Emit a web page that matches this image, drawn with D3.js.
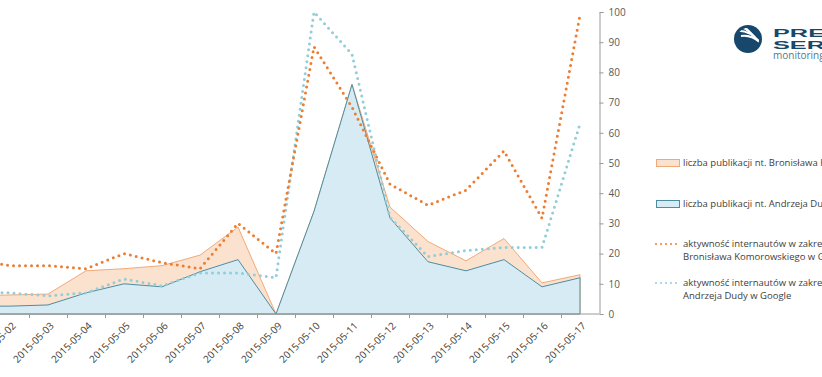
<!DOCTYPE html>
<html>
<head>
<meta charset="utf-8">
<script src="https://cdn.jsdelivr.net/npm/d3@7"></script>
<style>
  body { margin: 0; background: #fff; }
  svg { display: block; font-family: "Open Sans", "DejaVu Sans", sans-serif; }
</style>
</head>
<body>
<div id="chart"></div>
<script>
// dates (05-01 lies left of the visible crop)
const days = ['2015-05-01', '2015-05-02', '2015-05-03', '2015-05-04', '2015-05-05', '2015-05-06',
    '2015-05-07', '2015-05-08', '2015-05-09', '2015-05-10', '2015-05-11', '2015-05-12',
    '2015-05-13', '2015-05-14', '2015-05-15', '2015-05-16', '2015-05-17']

const pubKomorowski = [6, 6.3, 6.6, 14.3, 15, 16, 19.5, 28.8, 0, 34, 76, 35.4, 24, 17.6, 25, 10.3, 13]
const pubDuda = [2.6, 2.6, 3, 7, 10, 9, 14, 18, 0, 34, 76, 31.8, 17.3, 14.3, 18, 9, 12]
const googleKomorowski = [18, 16, 16, 15, 20, 17, 15, 30, 20, 88.5, 68.5, 43, 36, 41, 54, 31.7, 99]
const googleDuda = [7, 7, 6, 7, 11.6, 9.3, 13.6, 13.6, 12, 100, 86, 32, 19, 21, 22, 22, 63]

const yTicks = [0, 10, 20, 30, 40, 50, 60, 70, 80, 90, 100]

const legendItems = [
    {kind: 'area', fill: '#fbe2cf', stroke: '#f2a978', lines: ['liczba publikacji nt. Bronisława Komorowskiego']},
    {kind: 'area', fill: '#d6ebf3', stroke: '#4e8da0', lines: ['liczba publikacji nt. Andrzeja Dudy']},
    {kind: 'dots', stroke: '#ed7d31', lines: ['aktywność internautów w zakresie', 'Bronisława Komorowskiego w Google']},
    {kind: 'dots', stroke: '#93cdd8', lines: ['aktywność internautów w zakresie', 'Andrzeja Dudy w Google']}
]

const width = 822, height = 377
const plot = {left: -47, right: 599, top: 12, bottom: 314}

const svg = d3.select('#chart').append('svg')
    .attr('width', width)
    .attr('height', height)

const x = d3.scaleBand().domain(days).range([plot.left, plot.right])
const y = d3.scaleLinear().domain([0, 100]).range([plot.bottom, plot.top])
const cx = d => x(d) + x.bandwidth() / 2

const area = vals => d3.area()
    .x((d, i) => cx(days[i]))
    .y0(y(0))
    .y1(d => y(d))(vals)
const line = vals => d3.line()
    .x((d, i) => cx(days[i]))
    .y(d => y(d))(vals)

// areas
svg.append('path')
    .attr('d', area(pubKomorowski))
    .attr('fill', '#fbe2cf')
    .attr('stroke', '#f2a978')
    .attr('stroke-width', 1)
svg.append('path')
    .attr('d', area(pubDuda))
    .attr('fill', '#d6ebf3')
    .attr('stroke', '#4e8da0')
    .attr('stroke-width', 1)

// dotted lines
svg.append('path')
    .attr('d', line(googleDuda))
    .attr('fill', 'none')
    .attr('stroke', '#93cdd8')
    .attr('stroke-width', 3)
    .attr('stroke-linecap', 'round')
    .attr('stroke-dasharray', '0 6')
svg.append('path')
    .attr('d', line(googleKomorowski))
    .attr('fill', 'none')
    .attr('stroke', '#ed7d31')
    .attr('stroke-width', 3)
    .attr('stroke-linecap', 'round')
    .attr('stroke-dasharray', '0 6')

// x axis
const xAxis = svg.append('g')
xAxis.append('line')
    .attr('x1', 0).attr('x2', plot.right)
    .attr('y1', y(0)).attr('y2', y(0))
    .attr('stroke', '#9a9a9a')
xAxis.selectAll('.tick')
    .data(days.slice(1))
    .join('line')
    .attr('x1', d => x(d) + 0.5).attr('x2', d => x(d) + 0.5)
    .attr('y1', y(0)).attr('y2', y(0) + 4)
    .attr('stroke', '#9a9a9a')
xAxis.selectAll('text')
    .data(days)
    .join('text')
    .attr('transform', d => 'translate(' + (cx(d) + 4) + ',' + (y(0) + 10) + ') rotate(-45)')
    .attr('text-anchor', 'end')
    .attr('dy', '0.35em')
    .attr('font-size', 10)
    .attr('fill', '#404040')
    .text(d => d)

// y axis on the right
const yAxis = svg.append('g')
    .attr('transform', 'translate(' + (plot.right + 0.5) + ',0)')
    .call(d3.axisRight(y).tickValues(yTicks).tickSize(4).tickPadding(5))
yAxis.select('.domain').attr('stroke', '#9a9a9a')
yAxis.selectAll('.tick line').attr('stroke', '#9a9a9a')
yAxis.selectAll('.tick text')
    .attr('font-family', '"Open Sans", "DejaVu Sans", sans-serif')
    .attr('font-size', 10)
    .attr('fill', '#595959')

// legend
const legendY = [163, 204, 244, 283]
const leg = svg.append('g')
legendItems.forEach((it, i) => {
    const g = leg.append('g').attr('transform', 'translate(656,' + legendY[i] + ')')
    if (it.kind === 'area') {
        g.append('rect')
            .attr('x', 0.5).attr('y', -3.5)
            .attr('width', 23).attr('height', 7)
            .attr('fill', it.fill)
            .attr('stroke', it.stroke)
    } else {
        g.append('line')
            .attr('x1', 0).attr('x2', 24)
            .attr('y1', 0).attr('y2', 0)
            .attr('stroke', it.stroke)
            .attr('stroke-width', 2)
            .attr('stroke-linecap', 'round')
            .attr('stroke-dasharray', '0 5')
    }
    it.lines.forEach((t, j) => {
        g.append('text')
            .attr('x', 27)
            .attr('y', j * 13)
            .attr('dy', '0.35em')
            .attr('font-size', 9.5)
            .attr('fill', '#404040')
            .text(t)
    })
})

// logo
const logo = svg.append('g').attr('transform', 'translate(748,39)')
logo.append('circle').attr('r', 14).attr('fill', '#17486b')
const stripes = [-8, -3, 2, 7]
logo.append('clipPath').attr('id', 'lc')
    .append('circle').attr('r', 11)
logo.append('g').attr('clip-path', 'url(#lc)')
    .selectAll('path')
    .data(stripes)
    .join('path')
    .attr('d', d => 'M' + (-14 + d) + ',' + (-10 + d) + ' Q' + (0 + d) + ',' + (-12 + d) + ' ' + (12 + d) + ',' + (4 + d))
    .attr('fill', 'none')
    .attr('stroke', '#fff')
    .attr('stroke-width', 2)
logo.append('text')
    .attr('transform', 'translate(25,-2) scale(2.2,1)')
    .attr('font-family', '"Liberation Sans", Arial, sans-serif')
    .attr('font-weight', 'bold')
    .attr('font-size', 11.5)
    .attr('fill', '#17486b')
    .text('PRESS')
logo.append('text')
    .attr('transform', 'translate(25,9.5) scale(2.2,1)')
    .attr('font-family', '"Liberation Sans", Arial, sans-serif')
    .attr('font-weight', 'bold')
    .attr('font-size', 11.5)
    .attr('fill', '#17486b')
    .text('SERVICE')
logo.append('text')
    .attr('x', 25).attr('y', 20)
    .attr('font-size', 10)
    .attr('fill', '#4f7a94')
    .text('monitoring mediów')
</script>
</body>
</html>
